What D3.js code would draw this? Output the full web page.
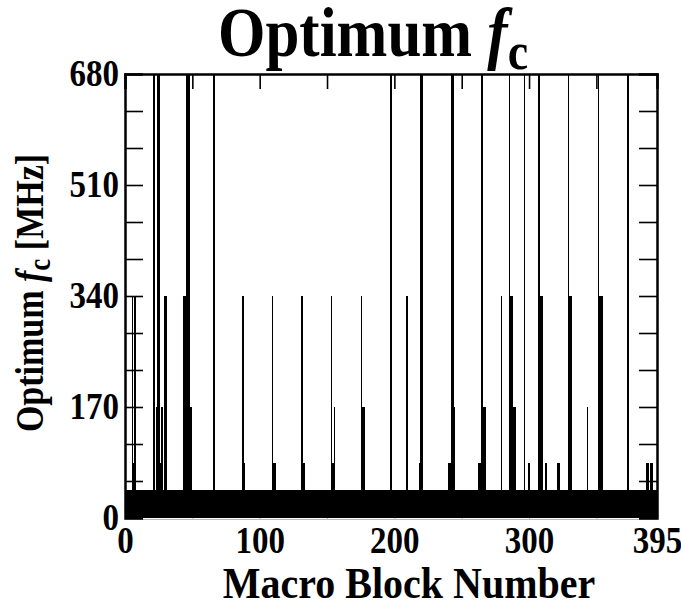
<!DOCTYPE html>
<html>
<head>
<meta charset="utf-8">
<script src="https://cdn.jsdelivr.net/npm/d3@7"></script>
<style>
  body { margin: 0; background: #fff; }
  svg text { font-family: "Liberation Serif", "Times New Roman", serif; font-weight: bold; fill: #000; }
</style>
</head>
<body>
<div id="chart"></div>
<script>
// Macro block count and the common level most blocks sit at
const blockCount = 395;
const baseValue = 42.5;

// blocks that rise above the common level, and their optimum fc (MHz)
const spikeBlocks = [5, 6, 7,
  21, 23, 24, 25, 26, 27, 29, 30,
  43, 44, 45, 46, 47, 48, 49,
  65, 66,
  87, 88,
  109, 110, 111,
  131, 132, 133,
  153, 154, 155,
  175, 176, 177,
  197, 209,
  218, 219, 220,
  240, 241, 242, 243, 244,
  262, 263, 264, 265, 266, 267,
  279,
  285, 286, 287, 288, 289,
  296, 299, 300,
  307, 308, 309, 312,
  321, 322,
  329, 330, 331,
  343,
  351, 352, 353, 354,
  373,
  387, 388, 390, 391];
const spikeValues = [340, 85, 340,
  680, 170, 680, 680, 85, 170, 340, 340,
  340, 340, 680, 680, 680, 170, 170,
  680, 680,
  340, 85,
  340, 85, 85,
  340, 85, 85,
  340, 85, 170,
  340, 170, 170,
  680, 340,
  85, 680, 680,
  85, 85, 680, 680, 170,
  85, 85, 680, 680, 170, 170,
  340,
  680, 340, 340, 170, 170,
  680, 85, 85,
  680, 340, 340, 85,
  85, 85,
  680, 340, 340,
  170,
  680, 340, 340, 340,
  680,
  85, 85, 85, 85];

const yLabels = [0, 170, 340, 510, 680];
const yMinor = d3.range(1, 12).map(k => k * 680 / 12);
const xLabels = [0, 100, 200, 300, 395];
const xTopTicks = [50, 100, 150, 200, 250, 300, 350];

var width = 681, height = 608;
var margin = {top: 74, right: 24, bottom: 90, left: 125};
var stretch = 1.14; // the glyphs in the original are taller than plain Times

var svg = d3.select('#chart').append('svg')
  .attr('width', width).attr('height', height);

var x = d3.scaleLinear().domain([0, 395]).range([margin.left, width - margin.right]);
var y = d3.scaleLinear().domain([0, 680]).range([height - margin.bottom, margin.top]);

var blocks = d3.range(blockCount).map(i => {
  let k = spikeBlocks.indexOf(i);
  return {i: i, v: (k >= 0) ? spikeValues[k] : baseValue};
});
// closing step at the right edge
blocks.push({i: blockCount, v: blocks[blockCount - 1].v});

// faint bottom axis sits under the bars
svg.append('g')
  .attr('transform', 'translate(0,' + (y(0) + 1) + ')')
  .call(d3.axisTop(x).tickValues(d3.range(50, 395, 50)).tickSize(6).tickFormat(''))
  .call(g => g.selectAll('line,path').attr('stroke', '#bbb').attr('stroke-width', 1));

// one block per step, drawn as a single stepped area so the bars have no seams
var barArea = d3.area()
  .curve(d3.curveStepAfter)
  .x(d => x(d.i))
  .y0(y(0))
  .y1(d => y(d.v));

svg.append('path')
  .datum(blocks)
  .attr('class', 'bars')
  .attr('d', barArea)
  .attr('fill', '#000')
  .attr('shape-rendering', 'crispEdges');

// frame: left, top, right
var frame = svg.append('g');
frame.append('g')
  .attr('transform', 'translate(' + x(0) + ',0)')
  .call(d3.axisRight(y).tickValues(yMinor).tickSize(18).tickFormat(''));
frame.append('g')
  .attr('transform', 'translate(' + x(395) + ',0)')
  .call(d3.axisLeft(y).tickValues(yMinor).tickSize(18).tickFormat(''));
frame.append('g')
  .attr('transform', 'translate(0,' + y(680) + ')')
  .call(d3.axisBottom(x).tickValues(xTopTicks).tickSize(15).tickFormat(''));
frame.selectAll('path.domain').attr('stroke', '#000').attr('stroke-width', 2.5);
frame.selectAll('.tick line').attr('stroke', '#000').attr('stroke-width', 1.6);

// tick labels
svg.append('g')
  .attr('transform', 'translate(' + x(0) + ',0)')
  .call(d3.axisLeft(y).tickValues(yLabels).tickSize(0).tickPadding(6))
  .call(g => g.select('.domain').remove())
  .selectAll('text')
  .attr('font-family', null).attr('font-size', null)
  .style('font-size', '33px')
  .attr('dy', '0.3em')
  .attr('transform', 'scale(1,' + stretch + ')');

svg.append('g')
  .attr('transform', 'translate(0,' + y(0) + ')')
  .call(d3.axisBottom(x).tickValues(xLabels).tickSize(0))
  .call(g => g.select('.domain').remove())
  .selectAll('text')
  .attr('font-family', null).attr('font-size', null)
  .style('font-size', '33px')
  .attr('dy', null)
  .attr('y', 35 / stretch)
  .attr('transform', 'scale(1,' + stretch + ')');

// titles
var title = svg.append('text')
  .attr('transform', 'translate(218,56) scale(1,1.15)')
  .style('font-size', '61px');
title.append('tspan').text('Optimum ');
title.append('tspan').style('font-style', 'italic').text('f');
title.append('tspan').attr('dy', 11).style('font-size', '46px').text('c');

svg.append('text')
  .attr('transform', 'translate(409,598) scale(1,1.1)')
  .attr('text-anchor', 'middle')
  .style('font-size', '40px')
  .text('Macro Block Number');

var ytitle = svg.append('text')
  .attr('transform', 'translate(43,' + ((y(0) + y(680)) / 2 - 3) + ') rotate(-90) scale(1,1.16)')
  .attr('text-anchor', 'middle')
  .style('font-size', '34px');
ytitle.append('tspan').text('Optimum ');
ytitle.append('tspan').style('font-style', 'italic').text('f');
ytitle.append('tspan').attr('dy', 6).style('font-size', '27px').text('c');
ytitle.append('tspan').attr('dy', -6).text(' [MHz]');
</script>
</body>
</html>
